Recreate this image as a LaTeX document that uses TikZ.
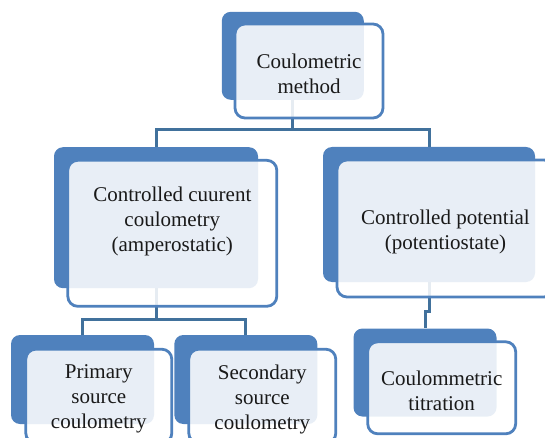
\documentclass[tikz,border=0pt]{standalone}
\usepackage{fontspec}
\setmainfont{Liberation Serif}
\usetikzlibrary{backgrounds}
\definecolor{mblue}{RGB}{79,129,189}
\definecolor{lblue}{RGB}{65,113,156}
\tikzset{backbox/.style = {fill=mblue, rounded corners=9pt, inner sep=0pt,
                           minimum width=143pt, minimum height=89pt},
         frontbox/.style = {draw=mblue, line width=2.8pt, fill=white, fill opacity=0.87,
                            rounded corners=10pt, inner sep=0pt,
                            minimum width=147pt, minimum height=94pt},
         boxtext/.style = {align=center, yshift=-3pt, font=\fontsize{21}{25}\selectfont, text=black!90},
         link/.style = {draw=lblue, line width=3pt}}

\begin{document}
\begin{tikzpicture}[x=1pt, y=-1pt]
    \useasboundingbox (0,0) rectangle (545,438);

    % top level
    \node [backbox, minimum width=142pt, minimum height=88pt] (methB) at (292.8, 55.8) {};
    \node [frontbox, minimum width=148pt] (methF) at (309, 71) {};
    \node [boxtext] at (methF) {Coulometric\\method};

    % second level
    \node [backbox, minimum width=204pt, minimum height=141pt] (curB) at (156, 217.7) {};
    \node [frontbox, minimum width=209pt, minimum height=146pt] (curF) at (172.3, 233.3) {};
    \node [boxtext] at ([yshift=15pt]curF.center) {Controlled cuurent\\coulometry\\(amperostatic)};

    \node [backbox, minimum width=212pt, minimum height=135pt] (potB) at (429, 214.5) {};
    \node [frontbox, minimum width=217pt, minimum height=137pt] (potF) at (445.5, 228.5) {};
    \node [boxtext] at (potF) {Controlled potential\\(potentiostate)};

    % third level
    \node [backbox] (primB) at (82.5, 379.5) {};
    \node [frontbox, minimum width=146pt] (primF) at (98.8, 396.2) {};
    \node [boxtext] at (primF) {Primary\\source\\coulometry};

    \node [backbox] (secB) at (245.8, 379.5) {};
    \node [frontbox] (secF) at (262.3, 396.2) {};
    \node [boxtext] at (secF) {Secondary\\source\\coulometry};

    \node [backbox, minimum height=88pt] (coulB) at (425, 372.5) {};
    \node [frontbox, minimum width=148pt, minimum height=92pt] (coulF) at (441.7, 387.8) {};
    \node [boxtext] at (coulF) {Coulommetric\\titration};

    % connectors behind the boxes
    \begin{scope}[on background layer]
        \draw [link] (methB.south) -- ++(0, 30) -| (curB.north);
        \draw [link] (methB.south) ++(0, 30) -| (potB.north);
        \draw [link] (curB.south) -- ++(0, 31) -| (primB.north);
        \draw [link] (curB.south) ++(0, 31) -| (secB.north);
        \draw [link] (potB.south) -- ++(0, 29) -| (coulB.north);
    \end{scope}
\end{tikzpicture}
\end{document}
